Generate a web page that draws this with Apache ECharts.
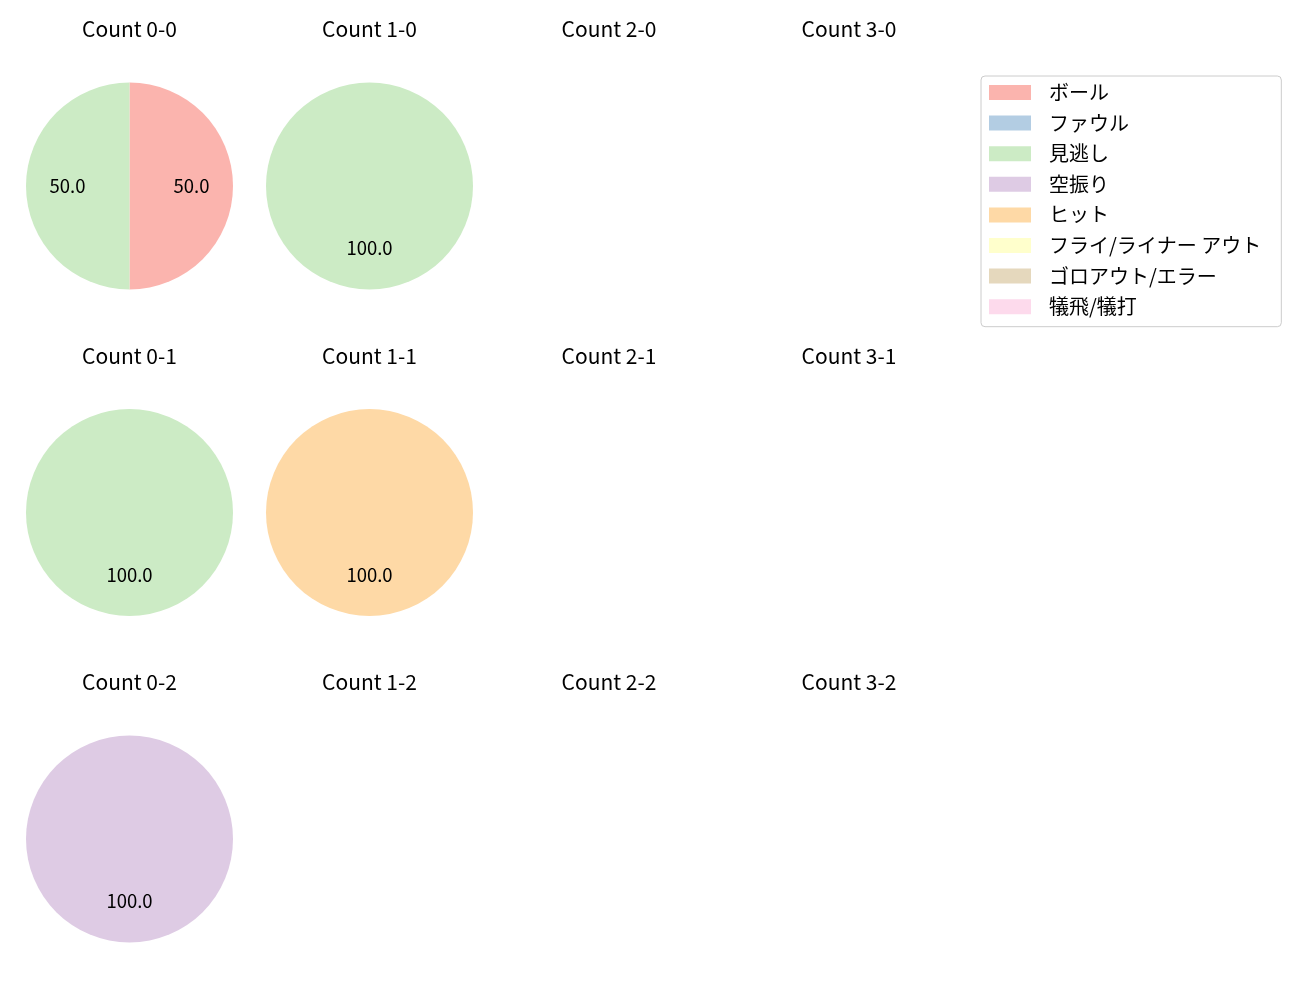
<!DOCTYPE html>
<html><head><meta charset="utf-8">
<script src="https://cdn.jsdelivr.net/npm/echarts@6/dist/echarts.min.js"></script>
<style>html,body{margin:0;padding:0;background:#fff}#c{width:1300px;height:1000px}</style>
</head><body><div id="c"></div>
<script>
const categories = ['ボール','ファウル','見逃し','空振り','ヒット','フライ/ライナー アウト','ゴロアウト/エラー','犠飛/犠打'];
const colors = ['#fbb4ae','#b3cde3','#ccebc5','#decbe4','#fed9a6','#ffffcc','#e5d8bd','#fddaec'];
const countLabels = ['0-0','1-0','2-0','3-0','0-1','1-1','2-1','3-1','0-2','1-2','2-2','3-2'];
// percentages per count, in category order
const values00 = [50, 0, 50, 0, 0, 0, 0, 0];
const values10 = [0, 0, 100, 0, 0, 0, 0, 0];
const values01 = [0, 0, 100, 0, 0, 0, 0, 0];
const values11 = [0, 0, 0, 0, 100, 0, 0, 0];
const values02 = [0, 0, 0, 100, 0, 0, 0, 0];
const pieValues = {'0-0': values00, '1-0': values10, '0-1': values01, '1-1': values11, '0-2': values02};

const colX = [129.5, 369.5, 609, 849];
const rowY = [186, 512.5, 839];
const titleY = [29, 356, 682];
const R = 103.5;
const font = '"Noto Sans CJK JP", "DejaVu Sans", sans-serif';

const titles = [];
const series = [];
countLabels.forEach((c, i) => {
  const col = i % 4, row = Math.floor(i / 4);
  titles.push({
    text: 'Count ' + c, left: colX[col], top: titleY[row] - 10.5, textAlign: 'center', padding: 0,
    textStyle: {fontSize: 21, fontWeight: 'normal', color: '#000', fontFamily: font, lineHeight: 21}
  });
  const vals = pieValues[c];
  if (!vals) return;
  const data = categories.map((n, k) => ({name: n, value: vals[k], itemStyle: {color: colors[k]}}));
  series.push({
    type: 'pie', center: [colX[col], rowY[row]], radius: [0, R],
    startAngle: 90, clockwise: true, silent: true, animation: false,
    label: {show: false}, labelLine: {show: false},
    emphasis: {disabled: true}, stillShowZeroSum: false,
    data: data
  });
  series.push({
    type: 'pie', center: [colX[col], rowY[row]], radius: [R * 0.14, R],
    startAngle: 90, clockwise: true, silent: true, animation: false,
    itemStyle: {color: 'rgba(0,0,0,0)'},
    label: {show: true, position: 'inside', fontSize: 18.5, color: '#000', fontFamily: font,
      padding: [0, 0, 8, 0],
      formatter: p => p.value > 0 ? p.value.toFixed(1) : ''},
    labelLine: {show: false}, emphasis: {disabled: true},
    data: categories.map((n, k) => ({name: n + ' ', value: vals[k]}))
  });
});

const chart = echarts.init(document.getElementById('c'));
chart.setOption({
  backgroundColor: '#fff',
  animation: false,
  title: titles,
  legend: {
    data: categories.map((n, k) => ({name: n, itemStyle: {color: colors[k]}})),
    orient: 'vertical', left: 981, top: 76,
    icon: 'rect', itemWidth: 42, itemHeight: 15, itemGap: 10.6,
    padding: [6.5, 20, 10, 8],
    borderColor: '#cccccc', borderWidth: 1, borderRadius: 4,
    selectedMode: false,
    textStyle: {fontSize: 20, color: '#000', fontFamily: font, padding: [0, 0, 0, 13], lineHeight: 20}
  },
  series: series
});
</script></body></html>
